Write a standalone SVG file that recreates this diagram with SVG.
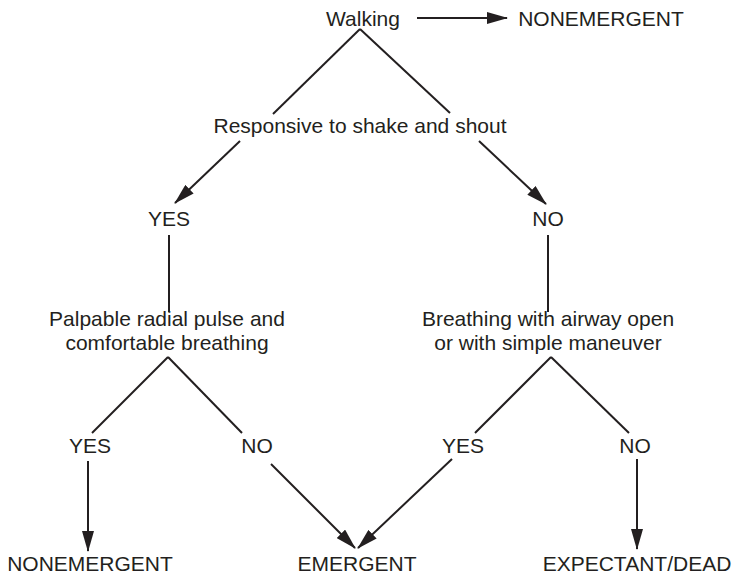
<svg xmlns="http://www.w3.org/2000/svg" width="734" height="576" viewBox="0 0 734 576">
<style>
text{font-family:"Liberation Sans",Arial,Helvetica,sans-serif;font-size:21px;fill:#231f20;text-anchor:middle}
.c line{stroke:#231f20;stroke-width:2;fill:none}
.a{marker-end:url(#ah)}
</style>
<defs>
<marker id="ah" markerUnits="userSpaceOnUse" markerWidth="21" markerHeight="12" refX="20" refY="6" orient="auto" viewBox="0 0 21 12">
<path d="M0,0 L21,6 L0,12 z" fill="#231f20"/>
</marker>
</defs>
<rect width="734" height="576" fill="#fff"/>
<g id="walking"><text x="363" y="26">Walking</text></g>
<g id="nonemergent-top"><text x="601" y="26">NONEMERGENT</text></g>
<g id="responsive"><text x="360" y="133">Responsive to shake and shout</text></g>
<g id="yes1"><text x="169" y="226">YES</text></g>
<g id="no1"><text x="548" y="226">NO</text></g>
<g id="palpable"><text x="167" y="326">Palpable radial pulse and</text><text x="167" y="350">comfortable breathing</text></g>
<g id="breathing"><text x="548" y="326">Breathing with airway open</text><text x="548" y="350">or with simple maneuver</text></g>
<g id="yes2"><text x="90" y="453">YES</text></g>
<g id="no2"><text x="257" y="453">NO</text></g>
<g id="yes3"><text x="463" y="453">YES</text></g>
<g id="no3"><text x="635" y="453">NO</text></g>
<g id="nonemergent-bottom"><text x="90" y="571">NONEMERGENT</text></g>
<g id="emergent"><text x="357" y="571">EMERGENT</text></g>
<g id="expectant"><text x="637" y="571">EXPECTANT/DEAD</text></g>
<g id="connectors" class="c">
<line class="a" x1="417" y1="18" x2="507" y2="18"/>
<line x1="360" y1="29" x2="273" y2="114"/>
<line x1="360" y1="29" x2="450" y2="113"/>
<line class="a" x1="240" y1="141" x2="175" y2="203"/>
<line class="a" x1="479" y1="141" x2="546" y2="204"/>
<line x1="169" y1="235" x2="169" y2="312"/>
<line x1="548" y1="235" x2="548" y2="312"/>
<line x1="168" y1="357" x2="92" y2="433"/>
<line x1="168" y1="357" x2="242" y2="433"/>
<line x1="551" y1="357" x2="475" y2="433"/>
<line x1="551" y1="357" x2="629" y2="433"/>
<line class="a" x1="88" y1="461" x2="88" y2="551"/>
<line class="a" x1="271" y1="464" x2="355" y2="548"/>
<line class="a" x1="452" y1="459" x2="358" y2="548"/>
<line class="a" x1="637" y1="459" x2="637" y2="549"/>
</g>
</svg>
